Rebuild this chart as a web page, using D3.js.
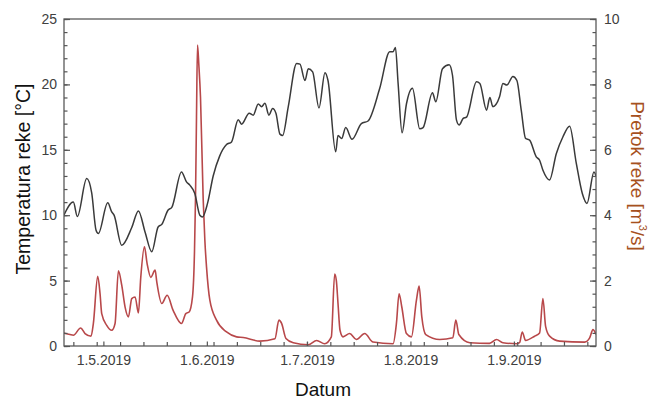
<!DOCTYPE html>
<html>
<head>
<meta charset="utf-8">
<script src="https://cdn.jsdelivr.net/npm/d3@7"></script>
<style>
  html, body { margin: 0; padding: 0; background: #fff; }
  svg text { font-family: Arial, "Liberation Sans", sans-serif; }
</style>
</head>
<body>
<div id="chart"></div>
<script>
// ---- data (days since 19.4.2019) ----
const startDate = new Date(2019, 3, 19);
const tempDays = [0, 3, 4.2, 7, 8.5, 9.8, 10.5, 13.3, 14.5, 15.2, 17.5, 20.5, 22.5, 24.5, 26.5, 28.4, 29.5, 31.4, 32.5,
  35.4, 36.9, 37.9, 39.4, 40.9, 41.7, 43.2, 44.9, 46.8, 48.9, 50.4, 52.4, 53.4, 55.7, 56.9, 58.4, 59.4, 60.4, 61.6,
  62.7, 63.7, 64.9, 65.7, 67.4, 69.9, 70.9, 72.4, 73.4, 74.7, 76.6, 78.4, 79.3, 81.6, 82.3, 83.4, 84.6, 86.5, 89.3,
  91.3, 94.8, 97.8, 98.8, 99.5, 100.3, 101.5, 102.8, 104.6, 106.8, 107.8, 110.6, 111.6, 113.6, 115.6, 116.6, 117.8,
  118.6, 119.8, 120.8, 123.8, 124.8, 126.8, 127.8, 128.7, 130.7, 131.7, 132.9, 134.7, 135.9, 137.2, 138.5, 139.7,
  141.7, 142.7, 143.7, 145.7, 147.7, 149.7, 151.7, 153.7, 155.5, 156.9, 159.0, 159.6];
const tempValues = [9.9, 11.0, 9.9, 12.8, 11.7, 8.85, 8.6, 10.95, 10.25, 10.0, 7.7, 9.06, 10.33, 8.7, 7.2, 9.1, 9.3, 10.4, 10.6,
  13.3, 12.55, 12.3, 11.66, 10.0, 9.87, 10.9, 13.0, 14.5, 15.4, 15.6, 17.3, 16.96, 17.8, 17.65, 18.5, 18.3, 18.55, 17.65,
  18.16, 17.8, 16.2, 16.1, 18.3, 21.6, 21.55, 20.3, 21.2, 20.96, 18.2, 20.9, 20.3, 14.85, 16.1, 15.87, 16.7, 15.8, 17.0,
  17.2, 19.7, 22.5, 22.5, 22.83, 20.1, 16.3, 18.5, 19.7, 16.6, 16.7, 19.36, 18.67, 21.2, 21.5, 20.7, 17.27,
  16.9, 17.4, 17.5, 20.2, 20.07, 18.03, 19.0, 18.3, 19.05, 20.07, 19.95, 20.6, 20.3, 18.03, 15.87, 15.74,
  14.46, 14.2, 13.44, 12.7, 14.7, 16.0, 16.8, 13.96, 11.66, 10.9, 13.3, 13.0];

const flowDays = [0, 2, 3, 5.2, 6.5, 8.3, 9.0, 10.3, 11.0, 11.5, 13.0, 14.5, 15.5, 16.5, 17.5, 18.5, 19.5, 20.5, 21.5, 22.5,
  23.2, 24.3, 25.1, 26.2, 27.5, 28.0, 29.5, 31.1, 32.9, 35.4, 36.7, 37.7, 38.7, 39.3, 39.6, 39.9, 40.2, 40.6, 41.1, 41.9,
  42.4, 42.9, 43.9, 45.9, 48.9, 51.9, 53.9, 58.9, 63.4, 64.6, 65.4, 66.7, 68.9, 73.4, 75.9, 78.3, 80.3, 81.3, 81.8, 82.3,
  82.9, 83.8, 85.8, 87.8, 90.3, 92.8, 98.8, 99.8, 100.6, 101.4, 102.8, 104.3, 105.8, 106.6, 107.4, 108.6, 112.8, 116.7,
  117.6, 118.5, 121.8, 127.7, 129.8, 131.7, 135.9, 136.7, 137.5, 138.5, 141.2, 142.7, 143.7, 144.5, 145.7, 148.7,
  156.2, 157.7, 158.7, 159.6];
const flowValues = [0.40, 0.35, 0.33, 0.55, 0.38, 0.30, 0.69, 2.13, 1.6, 0.99, 0.63, 0.48, 0.69, 2.3, 1.86, 1.19, 0.89, 1.45, 1.5, 1.01,
  2.1, 3.03, 2.52, 2.1, 2.32, 1.96, 1.3, 1.55, 1.09, 0.69, 0.99, 1.04, 1.5, 2.9, 4.5, 7.0, 9.2, 8.6, 7.6, 4.5,
  3.24, 2.42, 1.4, 0.79, 0.43, 0.28, 0.26, 0.15, 0.22, 0.79, 0.69, 0.23, 0.1, 0.04, 0.17, 0.07, 0.28, 2.2, 2.0, 1.3,
  0.48, 0.28, 0.38, 0.2, 0.38, 0.12, 0.07, 0.69, 1.6, 1.2, 0.38, 0.28, 1.4, 1.83, 0.9, 0.35, 0.2, 0.25,
  0.79, 0.35, 0.1, 0.08, 0.2, 0.1, 0.07, 0.1, 0.43, 0.17, 0.3, 0.4, 1.45, 0.6, 0.3, 0.15,
  0.12, 0.25, 0.5, 0.35];

const monthLabels = ["1.5.2019", "1.6.2019", "1.7.2019", "1.8.2019", "1.9.2019"];
const tempTicks = [0, 5, 10, 15, 20, 25];
const flowTicks = [0, 2, 4, 6, 8, 10];

// ---- layout ----
const W = 651, H = 400;
const m = { left: 64, right: 55, top: 19, bottom: 54 };
const iw = W - m.left - m.right, ih = H - m.top - m.bottom;

const toDate = d => d3.timeMinute.offset(startDate, Math.round(d * 24 * 60));
const x = d3.scaleTime()
  .domain([toDate(0.2), toDate(159.6)])
  .range([0, iw]);
const yT = d3.scaleLinear().domain([0, 25]).range([ih, 0]);
const yQ = d3.scaleLinear().domain([0, 10]).range([ih, 0]);

const svg = d3.select("#chart").append("svg").attr("width", W).attr("height", H);
const g = svg.append("g").attr("transform", `translate(${m.left},${m.top})`);

svg.append("defs").append("clipPath").attr("id", "clip")
  .append("rect").attr("width", iw).attr("height", ih);

// lines
const tempData = tempDays.map((d, i) => ({ t: toDate(d), v: tempValues[i] }));
const flowData = flowDays.map((d, i) => ({ t: toDate(d), v: flowValues[i] }));

const plot = g.append("g").attr("clip-path", "url(#clip)");
plot.append("path").datum(flowData)
  .attr("fill", "none").attr("stroke", "#b8484a").attr("stroke-width", 1.6)
  .attr("stroke-linejoin", "round")
  .attr("d", d3.line().x(d => x(d.t)).y(d => yQ(d.v)).curve(d3.curveMonotoneX));
plot.append("path").datum(tempData)
  .attr("fill", "none").attr("stroke", "#3a3a3a").attr("stroke-width", 1.5)
  .attr("stroke-linejoin", "round")
  .attr("d", d3.line().x(d => x(d.t)).y(d => yT(d.v)).curve(d3.curveMonotoneX));

// frame
g.append("rect").attr("width", iw).attr("height", ih)
  .attr("fill", "none").attr("stroke", "#5a5a5a").attr("stroke-width", 1.3);

const tickColor = "#555";
const labelColor = "#404040";

// left axis
const leftMinor = g.append("g").call(d3.axisLeft(yT).tickValues(d3.range(0, 26, 1)).tickSize(-3.5).tickSizeOuter(0).tickFormat(""));
const leftMajor = g.append("g").call(d3.axisLeft(yT).tickValues(tempTicks).tickSize(-6).tickSizeOuter(0).tickPadding(7));
// right axis
const rightMinor = g.append("g").attr("transform", `translate(${iw},0)`)
  .call(d3.axisRight(yQ).tickValues(d3.range(0, 10.01, 0.4)).tickSize(-3.5).tickSizeOuter(0).tickFormat(""));
const rightMajor = g.append("g").attr("transform", `translate(${iw},0)`)
  .call(d3.axisRight(yQ).tickValues(flowTicks).tickSize(-6).tickSizeOuter(0).tickPadding(8));
// bottom axis: weekly ticks (Mondays) + month starts
const weekTicks = d3.timeMonday.range(x.domain()[0], x.domain()[1]);
const monthTicks = d3.timeMonth.range(x.domain()[0], x.domain()[1]);
const botMinor = g.append("g").attr("transform", `translate(0,${ih})`)
  .call(d3.axisBottom(x).tickValues(weekTicks).tickSize(-4).tickSizeOuter(0).tickFormat(""));
const botMajor = g.append("g").attr("transform", `translate(0,${ih})`)
  .call(d3.axisBottom(x).tickValues(monthTicks).tickSize(-4.5).tickSizeOuter(0).tickPadding(9)
    .tickFormat((d, i) => monthLabels[i]));

[leftMinor, leftMajor, rightMinor, rightMajor, botMinor, botMajor].forEach(a => {
  a.select(".domain").remove();
  a.selectAll("line").attr("stroke", tickColor).attr("stroke-width", 1.2);
  a.selectAll("text").attr("fill", labelColor).style("font-size", "14px");
});

// titles
svg.append("text")
  .attr("transform", `translate(25,${179}) rotate(-90)`)
  .attr("text-anchor", "middle").attr("dominant-baseline", "middle")
  .style("font-size", "19.5px").attr("fill", "#111")
  .text("Temperatura reke [°C]");

const rt = svg.append("text")
  .attr("transform", `translate(636,${176}) rotate(90)`)
  .attr("text-anchor", "middle").attr("dominant-baseline", "middle")
  .style("font-size", "19px").attr("fill", "#a6511e");
rt.append("tspan").text("Pretok reke [m");
rt.append("tspan").attr("baseline-shift", "super").style("font-size", "11px").text("3");
rt.append("tspan").text("/s]");

svg.append("text")
  .attr("x", m.left + iw / 2 - 7).attr("y", 391)
  .attr("text-anchor", "middle").attr("dominant-baseline", "middle")
  .style("font-size", "19px").attr("fill", "#111")
  .text("Datum");
</script>
</body>
</html>
